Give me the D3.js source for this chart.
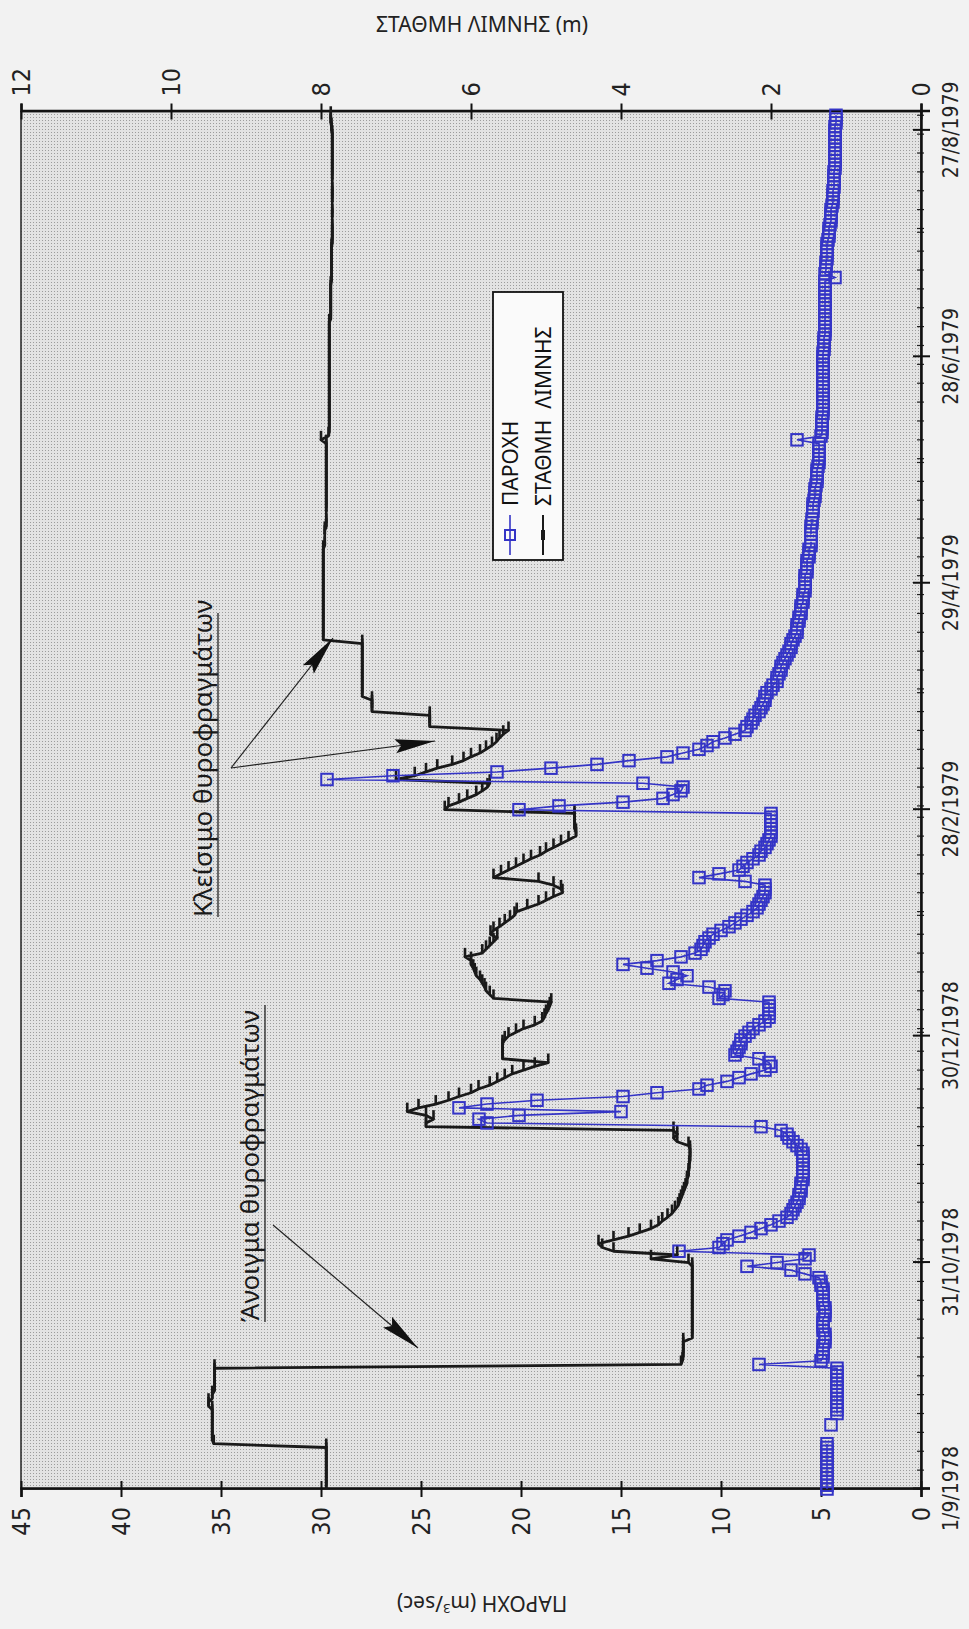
<!DOCTYPE html>
<html>
<head>
<meta charset="utf-8">
<script src="https://cdn.jsdelivr.net/npm/d3@7"></script>
<style>
  body { margin: 0; background: #f2f2f2; }
  svg { display: block; }
</style>
</head>
<body>
<div id="chart"></div>
<script>
// daily series, first value = 1/9/1978
const startDate = "1/9/1978";
const endDate = "1/9/1979";
const dateTicks = ["1/9/1978", "31/10/1978", "30/12/1978", "28/2/1979", "29/4/1979", "28/6/1979", "27/8/1979"];
const flowTicks = [0, 5, 10, 15, 20, 25, 30, 35, 40, 45];
const levelTicks = [0, 2, 4, 6, 8, 10, 12];

// ΠΑΡΟΧΗ (m3/sec)
const discharge = [
  4.7, 4.7, 4.7, 4.7, 4.7, 4.7, 4.7, 4.7, 4.7, 4.7,
  4.7, 4.7, 4.7, null, null, null, null, 4.5, null, null,
  4.2, 4.2, 4.2, 4.2, 4.2, 4.2, 4.2, 4.2, 4.2, 4.2,
  4.2, 4.2, 4.2, 8.1, 5.0, 4.9, 4.9, 4.9, 4.9, 4.8,
  4.8, 4.8, 4.9, 4.9, 4.9, 4.9, 4.8, 4.8, 4.8, 4.9,
  4.9, 4.9, 4.9, 4.9, 5.0, 5.0, 5.1, 5.8, 6.5, 8.7,
  7.2, 5.8, 5.6, 12.1, 10.1, 9.9, 9.7, 9.1, 8.5, 8.0,
  7.5, 7.1, 6.7, 6.5, 6.4, 6.3, 6.2, 6.1, 6.1, 6.0,
  6.0, 6.0, 5.9, 5.9, 5.9, 5.9, 5.9, 5.9, 5.9, 5.9,
  6.0, 6.2, 6.4, 6.6, 6.7, 7.0, 8.0, 21.7, 22.1, 20.1,
  15.0, 23.1, 21.7, 19.2, 14.9, 13.2, 11.1, 10.7, 9.7, 9.1,
  8.5, 7.8, 7.5, 7.6, 8.1, 9.3, 9.2, 9.1, 9.0, 9.0,
  8.8, 8.6, 8.4, 8.1, 7.8, 7.6, 7.6, 7.6, 7.6, 7.6,
  10.1, 9.9, 9.8, 10.6, 12.6, 12.2, 11.7, 12.4, 13.7, 14.9,
  13.2, 12.0, 11.3, 11.0, 10.9, 10.8, 10.6, 10.4, 10.0, 9.6,
  9.3, 9.0, 8.7, 8.4, 8.2, 8.1, 8.0, 7.9, 7.8, 7.8,
  7.8, 8.8, 11.1, 10.1, 9.1, 8.9, 8.7, 8.4, 8.1, 8.0,
  7.8, 7.7, 7.6, 7.5, 7.5, 7.5, 7.5, 7.5, 7.5, 7.5,
  20.1, 18.1, 14.9, 12.9, 12.4, 12.0, 11.9, 13.9, 29.7, 26.4,
  21.2, 18.5, 16.2, 14.6, 12.7, 11.9, 11.1, 10.7, 10.4, 9.8,
  9.3, 8.8, 8.7, 8.5, 8.4, 8.3, 8.1, 8.0, 7.9, 7.8,
  7.8, 7.7, 7.5, 7.4, 7.2, 7.2, 7.1, 7.0, 7.0, 6.9,
  6.8, 6.7, 6.6, 6.5, 6.5, 6.4, 6.3, 6.2, 6.2, 6.2,
  6.1, 6.1, 6.0, 6.0, 6.0, 5.9, 5.9, 5.9, 5.8, 5.8,
  5.8, 5.8, 5.8, 5.7, 5.7, 5.7, 5.7, 5.6, 5.6, 5.6,
  5.5, 5.5, null, 5.5, 5.5, 5.5, 5.45, 5.45, null, 5.4,
  5.4, 5.4, 5.35, 5.3, 5.3, 5.3, 5.25, 5.2, 5.2, 5.2,
  5.2, 5.15, 5.1, 5.1, 5.1, 5.1, 5.1, 5.1, 6.2, 5.0,
  4.95, 4.95, 4.95, 4.95, 4.95, 4.9, 4.9, 4.9, 4.9, 4.9,
  4.9, 4.9, 4.9, 4.9, 4.9, 4.9, 4.9, 4.9, 4.9, 4.9,
  4.9, 4.9, 4.85, 4.85, 4.85, 4.85, 4.8, 4.8, 4.8, 4.8,
  4.8, 4.8, 4.8, 4.8, 4.8, 4.8, 4.8, 4.8, 4.8, 4.8,
  4.8, 4.3, 4.8, 4.75, 4.75, 4.75, 4.7, 4.7, 4.7, 4.7,
  4.7, 4.65, 4.6, 4.6, 4.6, 4.55, 4.5, 4.5, 4.5, 4.5,
  4.45, 4.4, 4.4, 4.4, 4.4, 4.35, 4.35, 4.35, 4.35, 4.35,
  4.3, 4.3, 4.3, 4.3, 4.3, 4.3, 4.3, 4.3, 4.3, 4.3,
  4.3, 4.3, 4.25, 4.25, 4.25
];

// ΣΤΑΘΜΗ ΛΙΜΝΗΣ (m)
const level = [
  7.93, 7.93, 7.93, 7.93, 7.93, 7.93, 7.93, 7.93, 7.93, 7.93,
  7.93, 7.93, 9.43, 9.45, 9.45, 9.45, 9.45, 9.45, 9.45, 9.45,
  9.45, 9.45, 9.5, 9.5, 9.45, 9.45, 9.42, 9.42, 9.42, 9.42,
  9.42, 9.42, 9.42, 3.2, 3.18, 3.17, 3.17, 3.17, 3.17, 3.17,
  3.05, 3.05, 3.05, 3.05, 3.05, 3.05, 3.05, 3.05, 3.05, 3.05,
  3.05, 3.05, 3.05, 3.05, 3.05, 3.05, 3.05, 3.05, 3.05, 3.05,
  3.1, 3.6, 3.25, 4.1, 4.25, 4.3, 4.1, 3.9, 3.75, 3.6,
  3.5, 3.45, 3.38, 3.32, 3.28, 3.24, 3.22, 3.2, 3.18, 3.16,
  3.14, 3.12, 3.12, 3.1, 3.1, 3.09, 3.09, 3.08, 3.08, 3.08,
  3.08, 3.1, 3.25, 3.3, 3.25, 3.3, 6.6, 6.6, 6.5, 6.6,
  6.85, 6.7, 6.47, 6.3, 6.16, 6.0, 5.9, 5.75, 5.65, 5.55,
  5.45, 5.3, 5.15, 4.97, 5.58, 5.58, 5.58, 5.58, 5.58, 5.55,
  5.5, 5.4, 5.3, 5.15, 5.05, 5.02, 5.0, 4.97, 4.95, 4.93,
  5.7, 5.75, 5.8, 5.82, 5.85, 5.88, 5.93, 5.95, 5.97, 6.0,
  6.0, 6.08, 5.85, 5.8, 5.75, 5.7, 5.65, 5.74, 5.7, 5.62,
  5.55, 5.48, 5.42, 5.39, 5.25, 5.1, 5.0, 4.9, 4.78, 4.8,
  4.9, 5.1, 5.7, 5.6, 5.5, 5.4, 5.3, 5.2, 5.08, 5.0,
  4.9, 4.8, 4.7, 4.6, 4.6, 4.62, 4.62, 4.62, 4.62, 4.62,
  6.35, 6.3, 6.16, 6.05, 5.93, 5.85, 5.78, 5.75, 7.0, 6.75,
  6.6, 6.45, 6.25, 6.1, 6.0, 5.88, 5.8, 5.72, 5.66, 5.62,
  5.57, 5.5, 6.55, 6.55, 6.55, 6.55, 7.32, 7.32, 7.32, 7.32,
  7.45, 7.45, 7.45, 7.45, 7.45, 7.45, 7.45, 7.45, 7.45, 7.45,
  7.45, 7.45, 7.45, 7.45, 7.45, 7.97, 7.97, 7.97, 7.97, 7.97,
  7.97, 7.97, 7.97, 7.97, 7.97, 7.97, 7.97, 7.97, 7.97, 7.97,
  7.97, 7.97, 7.97, 7.97, 7.97, 7.97, 7.97, 7.97, 7.97, 7.97,
  7.95, 7.95, null, 7.95, 7.95, 7.93, 7.93, 7.93, null, 7.93,
  7.93, 7.93, 7.93, 7.93, 7.93, 7.93, 7.93, 7.93, 7.93, 7.93,
  7.93, 7.93, 7.93, 7.93, 7.93, 7.93, 7.93, 7.93, 8.0, 7.9,
  7.89, 7.89, 7.89, 7.89, 7.89, 7.89, 7.89, 7.89, 7.89, 7.89,
  7.89, 7.89, 7.89, 7.89, 7.89, 7.89, 7.89, 7.89, 7.89, 7.89,
  7.89, 7.89, 7.89, 7.89, 7.89, 7.89, 7.89, 7.89, 7.89, 7.89,
  7.87, 7.87, 7.87, 7.87, 7.87, 7.87, 7.87, 7.87, 7.87, 7.87,
  7.86, 7.86, 7.86, 7.86, 7.86, 7.86, 7.86, 7.86, 7.86, 7.86,
  7.85, 7.85, 7.85, 7.85, 7.85, 7.85, null, 7.85, 7.85, 7.85,
  null, 7.85, 7.85, 7.85, 7.85, 7.85, null, 7.85, 7.85, 7.85,
  7.85, 7.85, 7.85, 7.85, 7.85, 7.85, 7.85, 7.85, 7.85, 7.85,
  7.86, 7.86, 7.87, 7.87, 7.87
];

const legendLabels = ["ΠΑΡΟΧΗ", "ΣΤΑΘΜΗ  ΛΙΜΝΗΣ"];
const notes = ["Κλείσιμο θυροφραγμάτων", "Άνοιγμα θυροφραγμάτων"];

const parseDate = d3.timeParse("%d/%m/%Y");
const formatDate = d3.timeFormat("%-d/%-m/%Y");
const t0 = parseDate(startDate);
const t1 = parseDate(endDate);

const rows = discharge.map((q, i) => ({
  date: d3.timeDay.offset(t0, i),
  q: q,
  h: level[i]
}));

// the page holds the landscape chart turned a quarter to the left
const pageW = 969, pageH = 1629;
const margin = { top: 21, right: 111.5, bottom: 48, left: 140 };
const width = pageH - margin.left - margin.right;
const height = pageW - margin.top - margin.bottom;

const svg = d3.select("#chart")
  .append("svg")
  .attr("width", pageW)
  .attr("height", pageH);

const defs = svg.append("defs");
const pat = defs.append("pattern")
  .attr("id", "stipple")
  .attr("width", 3)
  .attr("height", 3)
  .attr("patternUnits", "userSpaceOnUse");
pat.append("rect").attr("width", 3).attr("height", 3).attr("fill", "#e3e3e3");
pat.append("rect").attr("width", 1).attr("height", 1).attr("fill", "#9c9c9c");

defs.append("marker")
  .attr("id", "head")
  .attr("viewBox", "0 0 40 14")
  .attr("refX", 40)
  .attr("refY", 7)
  .attr("markerWidth", 40)
  .attr("markerHeight", 14)
  .attr("markerUnits", "userSpaceOnUse")
  .attr("orient", "auto")
  .append("path")
  .attr("d", "M0,0 L40,7 L0,14 L6,7 Z")
  .attr("fill", "#111");

const land = svg.append("g")
  .attr("transform", `translate(0,${pageH}) rotate(-90)`);

const g = land.append("g")
  .attr("transform", `translate(${margin.left},${margin.top})`);

const x = d3.scaleTime()
  .domain([t0, t1])
  .range([0, width]);

const yQ = d3.scaleLinear().domain([0, 45]).range([height, 0]);
const yH = d3.scaleLinear().domain([0, 12]).range([height, 0]);

g.append("rect")
  .attr("width", width)
  .attr("height", height)
  .attr("fill", "url(#stipple)")
  .attr("stroke", "#222")
  .attr("stroke-width", 1.5);

// small ticks along the date axis
g.append("g")
  .selectAll("line")
  .data(d3.timeDay.every(5).range(t0, t1))
  .join("line")
  .attr("x1", d => x(d))
  .attr("x2", d => x(d))
  .attr("y1", height - 4)
  .attr("y2", height + 3)
  .attr("stroke", "#222")
  .attr("stroke-width", 1.2);

// axes
const xAxis = g.append("g")
  .attr("class", "axis")
  .attr("transform", `translate(0,${height})`)
  .call(d3.axisBottom(x)
    .tickValues(dateTicks.map(parseDate))
    .tickFormat(formatDate)
    .tickSize(9)
    .tickPadding(13));

xAxis.selectAll(".tick line").attr("y1", -8);
xAxis.selectAll(".tick text")
  .style("font-family", "'Liberation Sans Narrow', 'DejaVu Sans Condensed', sans-serif")
  .style("font-size", "21px");

const yAxisL = g.append("g")
  .attr("class", "axis")
  .call(d3.axisLeft(yQ).tickValues(flowTicks).tickSize(8).tickPadding(10));
yAxisL.selectAll(".tick line").attr("x1", 8);

const yAxisR = g.append("g")
  .attr("class", "axis")
  .attr("transform", `translate(${width},0)`)
  .call(d3.axisRight(yH).tickValues(levelTicks).tickSize(8).tickPadding(7));
yAxisR.selectAll(".tick line").attr("x1", -8);

g.selectAll(".axis .domain").attr("stroke", "#111").attr("stroke-width", 2.5);
g.selectAll(".axis .tick line").attr("stroke", "#111").attr("stroke-width", 2);
g.selectAll(".axis .tick text").attr("fill", "#222");
[yAxisL, yAxisR].forEach(ax => ax.selectAll(".tick text")
  .style("font-family", "'Liberation Sans Narrow', 'DejaVu Sans Condensed', sans-serif")
  .style("font-size", "25px"));

// axis titles
land.append("text")
  .attr("transform", "translate(26,482) rotate(-90)")
  .attr("text-anchor", "middle")
  .attr("dy", "0.35em")
  .style("font-family", "'Noto Sans', sans-serif")
  .style("font-size", "21px")
  .attr("fill", "#222")
  .html("ΠΑΡΟΧΗ (m<tspan dy='-8' font-size='13'>3</tspan><tspan dy='8'>/sec)</tspan>");

land.append("text")
  .attr("transform", "translate(1604,482) rotate(90)")
  .attr("text-anchor", "middle")
  .attr("dy", "0.35em")
  .style("font-family", "'Noto Sans', sans-serif")
  .style("font-size", "21px")
  .attr("fill", "#222")
  .text("ΣΤΑΘΜΗ ΛΙΜΝΗΣ (m)");

// level line with its short dash markers
const ink = "#1a1a1a";
const levelLine = d3.line()
  .defined(d => d.h != null)
  .x(d => x(d.date))
  .y(d => yH(d.h));

g.append("path")
  .datum(rows)
  .attr("d", levelLine)
  .attr("fill", "none")
  .attr("stroke", ink)
  .attr("stroke-width", 2.8)
  .attr("stroke-linejoin", "round");

g.selectAll(".hmark")
  .data(rows.filter(d => d.h != null))
  .join("line")
  .attr("class", "hmark")
  .attr("x1", d => x(d.date))
  .attr("x2", d => x(d.date) + 9)
  .attr("y1", d => yH(d.h))
  .attr("y2", d => yH(d.h))
  .attr("stroke", ink)
  .attr("stroke-width", 2.6);

// discharge line with hollow square markers
const flowLine = d3.line()
  .defined(d => d.q != null)
  .x(d => x(d.date))
  .y(d => yQ(d.q));

const blue = "#3434c6";

g.append("path")
  .datum(rows)
  .attr("d", flowLine)
  .attr("fill", "none")
  .attr("stroke", blue)
  .attr("stroke-width", 1.6);

g.selectAll(".qmark")
  .data(rows.filter(d => d.q != null))
  .join("rect")
  .attr("class", "qmark")
  .attr("x", d => x(d.date) - 5.75)
  .attr("y", d => yQ(d.q) - 5.75)
  .attr("width", 11.5)
  .attr("height", 11.5)
  .attr("fill", "none")
  .attr("stroke", blue)
  .attr("stroke-width", 2);

// legend
const leg = land.append("g").attr("transform", "translate(1069,493)");
leg.append("rect")
  .attr("width", 268)
  .attr("height", 70)
  .attr("fill", "#fafafa")
  .attr("stroke", "#111")
  .attr("stroke-width", 1.8);

leg.append("line").attr("x1", 5).attr("x2", 45).attr("y1", 17).attr("y2", 17)
  .attr("stroke", blue).attr("stroke-width", 1.6);
leg.append("rect").attr("x", 20).attr("y", 12).attr("width", 10).attr("height", 10)
  .attr("fill", "none").attr("stroke", blue).attr("stroke-width", 2);
leg.append("line").attr("x1", 5).attr("x2", 45).attr("y1", 50).attr("y2", 50)
  .attr("stroke", ink).attr("stroke-width", 2);
leg.append("line").attr("x1", 20).attr("x2", 30).attr("y1", 50).attr("y2", 50)
  .attr("stroke", ink).attr("stroke-width", 4);

leg.selectAll(".ltext")
  .data(legendLabels)
  .join("text")
  .attr("class", "ltext")
  .attr("x", 54)
  .attr("y", (d, i) => 17 + i * 33)
  .attr("dy", "0.36em")
  .attr("xml:space", "preserve")
  .style("white-space", "pre")
  .style("font-family", "'Noto Sans', sans-serif")
  .style("font-size", "21px")
  .attr("fill", "#111")
  .text(d => d);

// annotations
const noteStyle = sel => sel
  .style("font-family", "'Noto Sans', sans-serif")
  .style("font-size", "26px")
  .attr("fill", ink);

land.append("text").attr("x", 712).attr("y", 212).call(noteStyle).text(notes[0]);
land.append("line").attr("x1", 712).attr("x2", 1016).attr("y1", 218).attr("y2", 218)
  .attr("stroke", "#222").attr("stroke-width", 1.3);
land.append("text").attr("x", 307).attr("y", 259).call(noteStyle).text(notes[1]);
land.append("line").attr("x1", 307).attr("x2", 624).attr("y1", 265).attr("y2", 265)
  .attr("stroke", "#222").attr("stroke-width", 1.3);

const arrows = [
  [404, 273, 281, 418],
  [861, 231, 991, 333],
  [861, 231, 888, 435]
];
land.selectAll(".arrow")
  .data(arrows)
  .join("line")
  .attr("class", "arrow")
  .attr("x1", d => d[0]).attr("y1", d => d[1])
  .attr("x2", d => d[2]).attr("y2", d => d[3])
  .attr("stroke", "#222")
  .attr("stroke-width", 1.2)
  .attr("marker-end", "url(#head)");
</script>
</body>
</html>
